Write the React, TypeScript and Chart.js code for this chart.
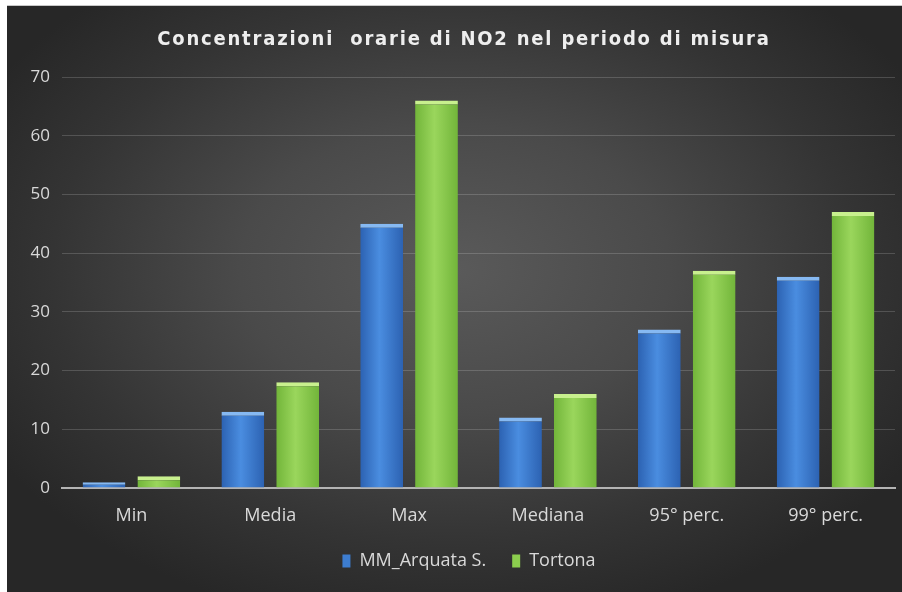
import React, { useEffect, useRef } from "react";
import { Chart, registerables } from "chart.js";

Chart.register(...registerables);

const TITLE = "Concentrazioni  orarie di NO2 nel periodo di misura";
const CATEGORIES = ["Min", "Media", "Max", "Mediana", "95° perc.", "99° perc."];
const SERIES_NAMES = ["MM_Arquata S.", "Tortona"];
const ARQUATA = [1, 13, 45, 12, 27, 36];
const TORTONA = [2, 18, 66, 16, 37, 47];
const Y_MIN = 0;
const Y_MAX = 70;
const Y_STEP = 10;

const CAT_PCT = 0.79;
const BAR_PCT = 0.78;

const PALETTE = [
  { edge: "#2c62b2", mid: "#4a8de0", solid: "#3d7dd0", top: "#86b9f2" },
  { edge: "#72b53a", mid: "#9ad65c", solid: "#8cce4e", top: "#c8f08e" },
];

function barFill(ctx: any) {
  const p = PALETTE[ctx.datasetIndex] || PALETTE[0];
  const chart = ctx.chart;
  const x = chart.scales && chart.scales.x;
  if (ctx.type !== "data" || !x || !chart.chartArea) return p.solid;
  const catW = (x.right - x.left) / CATEGORIES.length;
  const slot = (catW * CAT_PCT) / 2;
  const c = x.getPixelForValue(ctx.dataIndex) + (ctx.datasetIndex - 0.5) * slot;
  const half = (slot * BAR_PCT) / 2;
  const g = chart.ctx.createLinearGradient(c - half, 0, c + half, 0);
  g.addColorStop(0, p.edge);
  g.addColorStop(0.45, p.mid);
  g.addColorStop(1, p.edge);
  return g;
}

const titlePlugin = {
  id: "spacedTitle",
  afterLayout(chart: any) {
    // nudge the legend block to the right, as in the reference
    if (chart.legend) {
      chart.legend.left += 18;
      chart.legend.right += 18;
    }
  },
  afterDraw(chart: any) {
    const ctx = chart.ctx;
    ctx.save();
    (ctx as any).letterSpacing = "1.8px";
    ctx.font = 'bold 20px "DejaVu Sans Condensed", "Liberation Sans Narrow", sans-serif';
    ctx.fillStyle = "#eeeeee";
    ctx.textAlign = "center";
    ctx.textBaseline = "middle";
    ctx.fillText(TITLE, 457, 34);
    ctx.restore();
  },
};

export default function App() {
  const ref = useRef<HTMLCanvasElement | null>(null);

  useEffect(() => {
    if (!ref.current) return;
    const tickFont = { family: '"Open Sans", "DejaVu Sans", sans-serif', size: 18 };
    const chart = new Chart(ref.current, {
      type: "bar",
      data: {
        labels: CATEGORIES,
        datasets: [
          {
            label: SERIES_NAMES[0],
            data: ARQUATA,
            backgroundColor: barFill,
            borderColor: PALETTE[0].top,
            borderWidth: { top: 4, left: 0, right: 0, bottom: 0 },
            borderSkipped: "bottom",
          },
          {
            label: SERIES_NAMES[1],
            data: TORTONA,
            backgroundColor: barFill,
            borderColor: PALETTE[1].top,
            borderWidth: { top: 4, left: 0, right: 0, bottom: 0 },
            borderSkipped: "bottom",
          },
        ],
      },
      options: {
        animation: false,
        responsive: false,
        layout: { padding: { top: 71, right: 7, left: 0, bottom: 12 } },
        datasets: { bar: { categoryPercentage: CAT_PCT, barPercentage: BAR_PCT } },
        plugins: {
          title: { display: false },
          tooltip: { enabled: false },
          legend: {
            position: "bottom",
            labels: {
              color: "#d9d9d9",
              font: tickFont,
              boxWidth: 8,
              boxHeight: 13,
              padding: 26,
              generateLabels: (c: any) =>
                c.data.datasets.map((d: any, i: number) => ({
                  text: d.label,
                  fillStyle: PALETTE[i].solid,
                  strokeStyle: PALETTE[i].solid,
                  lineWidth: 0,
                  fontColor: "#d9d9d9",
                  datasetIndex: i,
                  hidden: false,
                })),
            },
          },
        },
        scales: {
          x: {
            grid: { display: false },
            border: { display: true, color: "#b4b4b4", width: 2 },
            ticks: { color: "#d9d9d9", font: tickFont, padding: 9 },
            afterFit: (s: any) => {
              s.height = 38;
            },
          },
          y: {
            min: Y_MIN,
            max: Y_MAX,
            grid: {
              color: "rgba(255,255,255,0.17)",
              lineWidth: 1,
              drawTicks: false,
            },
            border: { display: false },
            ticks: {
              stepSize: Y_STEP,
              color: "#d9d9d9",
              font: { family: '"Open Sans", "DejaVu Sans", sans-serif', size: 17 },
              padding: 12,
            },
            afterFit: (s: any) => {
              s.width = 55;
            },
          },
        },
      },
      plugins: [titlePlugin],
    });
    return () => chart.destroy();
  }, []);

  return (
    <div
      style={{
        position: "absolute",
        left: 7,
        top: 5,
        width: 895,
        height: 587,
        borderTop: "1px solid #c8c8c8",
        boxSizing: "border-box",
        background:
          "radial-gradient(ellipse 60% 62% at 50% 45%, #5a5a5a 0%, #4a4a4a 40%, #343434 75%, #272727 100%)",
      }}
    >
      <canvas ref={ref} width={895} height={586} style={{ display: "block" }} />
    </div>
  );
}
